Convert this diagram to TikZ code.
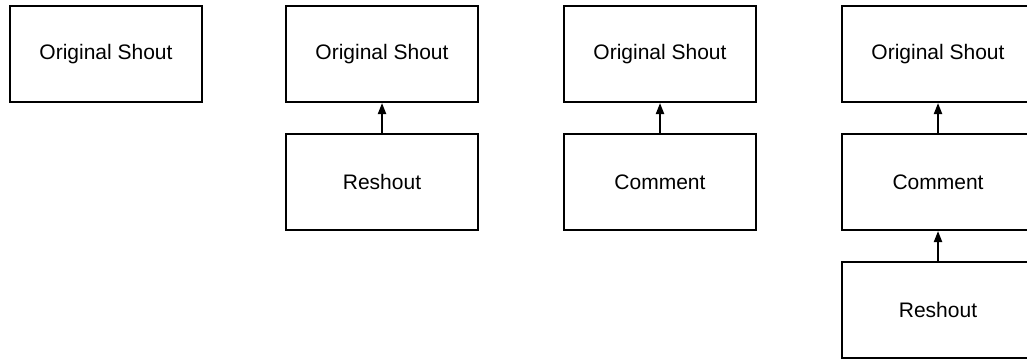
\documentclass[tikz,border=0pt]{standalone}
\usepackage{fontspec}
\setmainfont{Liberation Sans}
\usetikzlibrary{arrows.meta}
\tikzset{
  box/.style={rectangle, draw, line width=2pt, minimum width=192pt, minimum height=96pt,
    inner sep=0pt, font=\fontsize{21}{25}\selectfont},
  link/.style={line width=2pt, -{Triangle[width=8pt,length=11pt]}}
}
\begin{document}
\begin{tikzpicture}[x=1pt, y=-1pt]
  \useasboundingbox (0,0) rectangle (1027,360);

    % Just the shout
  \node[box] (shoutA) at (106,54) {Original Shout};

    % Shout with a reshout
  \node[box] (shoutB) at (382,54) {Original Shout};
  \node[box] (reshoutB) at (382,182) {Reshout};

    % Shout with a comment
  \node[box] (shoutC) at (660,54) {Original Shout};
  \node[box] (commentC) at (660,182) {Comment};

    % Shout, comment and a reshout of the comment
  \node[box] (shoutD) at (938,54) {Original Shout};
  \node[box] (commentD) at (938,182) {Comment};
  \node[box] (reshoutD) at (938,310) {Reshout};

    % Draw the links
  \draw[link] (reshoutB) -- (shoutB);
  \draw[link] (commentC) -- (shoutC);
  \draw[link] (commentD) -- (shoutD);
  \draw[link] (reshoutD) -- (commentD);
\end{tikzpicture}
\end{document}
